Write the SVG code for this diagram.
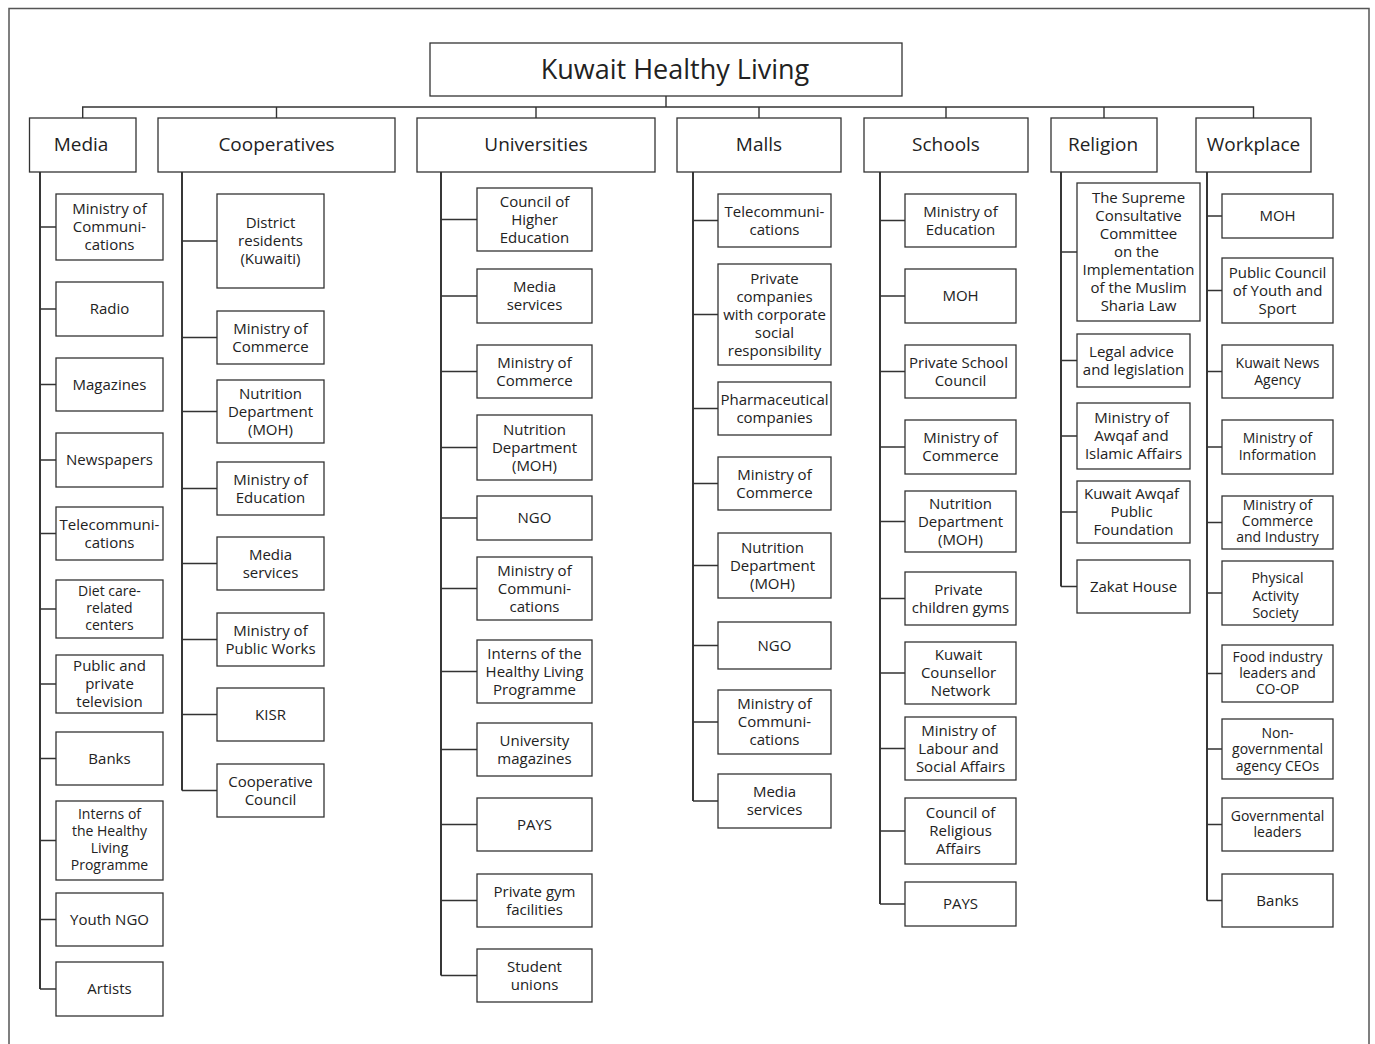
<svg xmlns="http://www.w3.org/2000/svg" width="1375" height="1044" viewBox="0 0 1375 1044">
<style>
.frame{fill:none;stroke:#555;stroke-width:1.5}
.box{fill:#fff;stroke:#333;stroke-width:1.3}
.c{fill:none;stroke:#333;stroke-width:1.4}
.tr{fill:none;stroke:#222;stroke-width:1.8}
text{font-family:"Open Sans","Noto Sans","DejaVu Sans",sans-serif;fill:#222;text-anchor:middle}
.t{font-size:15px}
.s{font-size:14px}
.h{font-size:19px}
.ti{font-size:27px}
</style>
<rect width="1375" height="1044" fill="#fff"/>
<path class="frame" d="M9,1044 V8.5 H1369 V1044"/>

<g id="connectors">
<path class="c" d="M666,96 V107 M82.7,118 V107 H1253.5 V118 M276.5,107 V118 M536,107 V118 M759,107 V118 M946,107 V118 M1104,107 V118"/>
<path class="tr" d="M40,172 V989 M182,172 V790.5 M441,172 V975.5 M693,172 V801 M880,172 V904 M1061,172 V586.5 M1207,172 V900.5"/>
<path class="c" d="M40,227 H56 M40,309 H56 M40,384.5 H56 M40,460 H56 M40,533.5 H56 M40,609 H56 M40,684 H56 M40,758.5 H56 M40,840.5 H56 M40,919.5 H56 M40,989 H56"/>
<path class="c" d="M182,241 H217 M182,337.5 H217 M182,411.5 H217 M182,488.5 H217 M182,563.5 H217 M182,639.5 H217 M182,714.5 H217 M182,790.5 H217"/>
<path class="c" d="M441,219.5 H477 M441,296 H477 M441,371.5 H477 M441,447.5 H477 M441,518 H477 M441,588.5 H477 M441,671.5 H477 M441,749.5 H477 M441,824.5 H477 M441,900.5 H477 M441,975.5 H477"/>
<path class="c" d="M693,220.5 H718 M693,314.5 H718 M693,408.5 H718 M693,483.5 H718 M693,565.5 H718 M693,645.5 H718 M693,722 H718 M693,801 H718"/>
<path class="c" d="M880,220.5 H905 M880,296 H905 M880,371.5 H905 M880,447 H905 M880,521.5 H905 M880,598.5 H905 M880,673 H905 M880,748.5 H905 M880,831 H905 M880,904 H905"/>
<path class="c" d="M1061,252 H1077 M1061,360.5 H1077 M1061,436 H1077 M1061,512 H1077 M1061,586.5 H1077"/>
<path class="c" d="M1207,216 H1222 M1207,290.5 H1222 M1207,371.5 H1222 M1207,447 H1222 M1207,522.5 H1222 M1207,593 H1222 M1207,673.5 H1222 M1207,749 H1222 M1207,824.5 H1222 M1207,900.5 H1222"/>
</g>

<g id="root"><rect class="box" x="430" y="43" width="472" height="53"/><text class="ti" x="675" y="79">Kuwait Healthy Living</text></g>

<g id="cat-media"><rect class="box" x="29.5" y="118" width="106.5" height="54"/><text class="h" x="81" y="151">Media</text></g>
<g id="cat-cooperatives"><rect class="box" x="158" y="118" width="237" height="54"/><text class="h" x="276.5" y="151">Cooperatives</text></g>
<g id="cat-universities"><rect class="box" x="417" y="118" width="238" height="54"/><text class="h" x="536" y="151">Universities</text></g>
<g id="cat-malls"><rect class="box" x="677" y="118" width="164" height="54"/><text class="h" x="759" y="151">Malls</text></g>
<g id="cat-schools"><rect class="box" x="864" y="118" width="164" height="54"/><text class="h" x="946" y="151">Schools</text></g>
<g id="cat-religion"><rect class="box" x="1051" y="118" width="106" height="54"/><text class="h" x="1103" y="151">Religion</text></g>
<g id="cat-workplace"><rect class="box" x="1196" y="118" width="115" height="54"/><text class="h" x="1253.5" y="151">Workplace</text></g>

<!-- Media -->
<g id="m1"><rect class="box" x="56" y="194" width="107" height="66"/><text class="t" y="214"><tspan x="109.5">Ministry of</tspan><tspan x="109.5" dy="18">Communi-</tspan><tspan x="109.5" dy="18">cations</tspan></text></g>
<g id="m2"><rect class="box" x="56" y="282" width="107" height="54"/><text class="t" x="109.5" y="314">Radio</text></g>
<g id="m3"><rect class="box" x="56" y="358" width="107" height="53"/><text class="t" x="109.5" y="389.5">Magazines</text></g>
<g id="m4"><rect class="box" x="56" y="433" width="107" height="54"/><text class="t" x="109.5" y="465">Newspapers</text></g>
<g id="m5"><rect class="box" x="56" y="507" width="107" height="53"/><text class="t" y="529.5"><tspan x="109.5">Telecommuni-</tspan><tspan x="109.5" dy="18">cations</tspan></text></g>
<g id="m6"><rect class="box" x="56" y="580" width="107" height="58"/><text class="s" y="596"><tspan x="109.5">Diet care-</tspan><tspan x="109.5" dy="17">related</tspan><tspan x="109.5" dy="17">centers</tspan></text></g>
<g id="m7"><rect class="box" x="56" y="655" width="107" height="58"/><text class="t" y="671"><tspan x="109.5">Public and</tspan><tspan x="109.5" dy="18">private</tspan><tspan x="109.5" dy="18">television</tspan></text></g>
<g id="m8"><rect class="box" x="56" y="732" width="107" height="53"/><text class="t" x="109.5" y="763.5">Banks</text></g>
<g id="m9"><rect class="box" x="56" y="801" width="107" height="79"/><text class="s" y="818.5"><tspan x="109.5">Interns of</tspan><tspan x="109.5" dy="17.5">the Healthy</tspan><tspan x="109.5" dy="17">Living</tspan><tspan x="109.5" dy="17">Programme</tspan></text></g>
<g id="m10"><rect class="box" x="56" y="893" width="107" height="53"/><text class="t" x="109.5" y="924.5">Youth NGO</text></g>
<g id="m11"><rect class="box" x="56" y="962" width="107" height="54"/><text class="t" x="109.5" y="994">Artists</text></g>

<!-- Cooperatives -->
<g id="c1"><rect class="box" x="217" y="194" width="107" height="94"/><text class="t" y="228"><tspan x="270.5">District</tspan><tspan x="270.5" dy="18">residents</tspan><tspan x="270.5" dy="18">(Kuwaiti)</tspan></text></g>
<g id="c2"><rect class="box" x="217" y="311" width="107" height="53"/><text class="t" y="333.5"><tspan x="270.5">Ministry of</tspan><tspan x="270.5" dy="18">Commerce</tspan></text></g>
<g id="c3"><rect class="box" x="217" y="380" width="107" height="63"/><text class="t" y="398.5"><tspan x="270.5">Nutrition</tspan><tspan x="270.5" dy="18">Department</tspan><tspan x="270.5" dy="18">(MOH)</tspan></text></g>
<g id="c4"><rect class="box" x="217" y="462" width="107" height="53"/><text class="t" y="484.5"><tspan x="270.5">Ministry of</tspan><tspan x="270.5" dy="18">Education</tspan></text></g>
<g id="c5"><rect class="box" x="217" y="537" width="107" height="53"/><text class="t" y="559.5"><tspan x="270.5">Media</tspan><tspan x="270.5" dy="18">services</tspan></text></g>
<g id="c6"><rect class="box" x="217" y="613" width="107" height="53"/><text class="t" y="635.5"><tspan x="270.5">Ministry of</tspan><tspan x="270.5" dy="18">Public Works</tspan></text></g>
<g id="c7"><rect class="box" x="217" y="688" width="107" height="53"/><text class="t" x="270.5" y="719.5">KISR</text></g>
<g id="c8"><rect class="box" x="217" y="764" width="107" height="53"/><text class="t" y="786.5"><tspan x="270.5">Cooperative</tspan><tspan x="270.5" dy="18">Council</tspan></text></g>

<!-- Universities -->
<g id="u1"><rect class="box" x="477" y="188" width="115" height="63"/><text class="t" y="206.5"><tspan x="534.5">Council of</tspan><tspan x="534.5" dy="18">Higher</tspan><tspan x="534.5" dy="18">Education</tspan></text></g>
<g id="u2"><rect class="box" x="477" y="269" width="115" height="54"/><text class="t" y="292"><tspan x="534.5">Media</tspan><tspan x="534.5" dy="18">services</tspan></text></g>
<g id="u3"><rect class="box" x="477" y="345" width="115" height="53"/><text class="t" y="367.5"><tspan x="534.5">Ministry of</tspan><tspan x="534.5" dy="18">Commerce</tspan></text></g>
<g id="u4"><rect class="box" x="477" y="415" width="115" height="65"/><text class="t" y="434.5"><tspan x="534.5">Nutrition</tspan><tspan x="534.5" dy="18">Department</tspan><tspan x="534.5" dy="18">(MOH)</tspan></text></g>
<g id="u5"><rect class="box" x="477" y="496" width="115" height="44"/><text class="t" x="534.5" y="523">NGO</text></g>
<g id="u6"><rect class="box" x="477" y="557" width="115" height="63"/><text class="t" y="575.5"><tspan x="534.5">Ministry of</tspan><tspan x="534.5" dy="18">Communi-</tspan><tspan x="534.5" dy="18">cations</tspan></text></g>
<g id="u7"><rect class="box" x="477" y="640" width="115" height="63"/><text class="t" y="658.5"><tspan x="534.5">Interns of the</tspan><tspan x="534.5" dy="18">Healthy Living</tspan><tspan x="534.5" dy="18">Programme</tspan></text></g>
<g id="u8"><rect class="box" x="477" y="723" width="115" height="53"/><text class="t" y="745.5"><tspan x="534.5">University</tspan><tspan x="534.5" dy="18">magazines</tspan></text></g>
<g id="u9"><rect class="box" x="477" y="798" width="115" height="53"/><text class="t" x="534.5" y="829.5">PAYS</text></g>
<g id="u10"><rect class="box" x="477" y="874" width="115" height="53"/><text class="t" y="896.5"><tspan x="534.5">Private gym</tspan><tspan x="534.5" dy="18">facilities</tspan></text></g>
<g id="u11"><rect class="box" x="477" y="949" width="115" height="53"/><text class="t" y="971.5"><tspan x="534.5">Student</tspan><tspan x="534.5" dy="18">unions</tspan></text></g>

<!-- Malls -->
<g id="l1"><rect class="box" x="718" y="194" width="113" height="53"/><text class="t" y="216.5"><tspan x="774.5">Telecommuni-</tspan><tspan x="774.5" dy="18">cations</tspan></text></g>
<g id="l2"><rect class="box" x="718" y="264" width="113" height="101"/><text class="t" y="283.5"><tspan x="774.5">Private</tspan><tspan x="774.5" dy="18">companies</tspan><tspan x="774.5" dy="18">with corporate</tspan><tspan x="774.5" dy="18">social</tspan><tspan x="774.5" dy="18">responsibility</tspan></text></g>
<g id="l3"><rect class="box" x="718" y="382" width="113" height="53"/><text class="t" y="404.5"><tspan x="774.5">Pharmaceutical</tspan><tspan x="774.5" dy="18">companies</tspan></text></g>
<g id="l4"><rect class="box" x="718" y="457" width="113" height="53"/><text class="t" y="479.5"><tspan x="774.5">Ministry of</tspan><tspan x="774.5" dy="18">Commerce</tspan></text></g>
<g id="l5"><rect class="box" x="718" y="533" width="113" height="65"/><text class="t" y="552.5"><tspan x="772.5">Nutrition</tspan><tspan x="772.5" dy="18">Department</tspan><tspan x="772.5" dy="18">(MOH)</tspan></text></g>
<g id="l6"><rect class="box" x="718" y="622" width="113" height="47"/><text class="t" x="774.5" y="650.5">NGO</text></g>
<g id="l7"><rect class="box" x="718" y="690" width="113" height="64"/><text class="t" y="709"><tspan x="774.5">Ministry of</tspan><tspan x="774.5" dy="18">Communi-</tspan><tspan x="774.5" dy="18">cations</tspan></text></g>
<g id="l8"><rect class="box" x="718" y="774" width="113" height="54"/><text class="t" y="797"><tspan x="774.5">Media</tspan><tspan x="774.5" dy="18">services</tspan></text></g>

<!-- Schools -->
<g id="s1"><rect class="box" x="905" y="194" width="111" height="53"/><text class="t" y="216.5"><tspan x="960.5">Ministry of</tspan><tspan x="960.5" dy="18">Education</tspan></text></g>
<g id="s2"><rect class="box" x="905" y="269" width="111" height="54"/><text class="t" x="960.5" y="301">MOH</text></g>
<g id="s3"><rect class="box" x="905" y="345" width="111" height="53"/><text class="t" y="367.5"><tspan x="958.5">Private School</tspan><tspan x="960.5" dy="18">Council</tspan></text></g>
<g id="s4"><rect class="box" x="905" y="420" width="111" height="54"/><text class="t" y="443"><tspan x="960.5">Ministry of</tspan><tspan x="960.5" dy="18">Commerce</tspan></text></g>
<g id="s5"><rect class="box" x="905" y="491" width="111" height="61"/><text class="t" y="508.5"><tspan x="960.5">Nutrition</tspan><tspan x="960.5" dy="18">Department</tspan><tspan x="960.5" dy="18">(MOH)</tspan></text></g>
<g id="s6"><rect class="box" x="905" y="572" width="111" height="53"/><text class="t" y="594.5"><tspan x="958.5">Private</tspan><tspan x="960.5" dy="18">children gyms</tspan></text></g>
<g id="s7"><rect class="box" x="905" y="642" width="111" height="62"/><text class="t" y="660"><tspan x="958.5">Kuwait</tspan><tspan x="958.5" dy="18">Counsellor</tspan><tspan x="960.5" dy="18">Network</tspan></text></g>
<g id="s8"><rect class="box" x="905" y="717" width="111" height="63"/><text class="t" y="735.5"><tspan x="958.5">Ministry of</tspan><tspan x="958.5" dy="18">Labour and</tspan><tspan x="960.5" dy="18">Social Affairs</tspan></text></g>
<g id="s9"><rect class="box" x="905" y="798" width="111" height="66"/><text class="t" y="818"><tspan x="960.5">Council of</tspan><tspan x="960.5" dy="18">Religious</tspan><tspan x="958.5" dy="18">Affairs</tspan></text></g>
<g id="s10"><rect class="box" x="905" y="882" width="111" height="44"/><text class="t" x="960.5" y="909">PAYS</text></g>

<!-- Religion -->
<g id="r1"><rect class="box" x="1077" y="183" width="123" height="138"/><text class="t" y="203"><tspan x="1138.5">The Supreme</tspan><tspan x="1138.5" dy="18">Consultative</tspan><tspan x="1138.5" dy="18">Committee</tspan><tspan x="1136.5" dy="18">on the</tspan><tspan x="1138.5" dy="18">Implementation</tspan><tspan x="1138.5" dy="18">of the Muslim</tspan><tspan x="1138.5" dy="18">Sharia Law</tspan></text></g>
<g id="r2"><rect class="box" x="1077" y="334" width="113" height="53"/><text class="t" y="356.5"><tspan x="1131.5">Legal advice</tspan><tspan x="1133.5" dy="18">and legislation</tspan></text></g>
<g id="r3"><rect class="box" x="1077" y="403" width="113" height="66"/><text class="t" y="423"><tspan x="1131.5">Ministry of</tspan><tspan x="1131.5" dy="18">Awqaf and</tspan><tspan x="1133.5" dy="18">Islamic Affairs</tspan></text></g>
<g id="r4"><rect class="box" x="1077" y="481" width="113" height="62"/><text class="t" y="499"><tspan x="1131.5">Kuwait Awqaf</tspan><tspan x="1131.5" dy="18">Public</tspan><tspan x="1133.5" dy="18">Foundation</tspan></text></g>
<g id="r5"><rect class="box" x="1077" y="560" width="113" height="53"/><text class="t" x="1133.5" y="591.5">Zakat House</text></g>

<!-- Workplace -->
<g id="w1"><rect class="box" x="1222" y="194" width="111" height="44"/><text class="t" x="1277.5" y="221">MOH</text></g>
<g id="w2"><rect class="box" x="1222" y="258" width="111" height="65"/><text class="t" y="277.5"><tspan x="1277.5">Public Council</tspan><tspan x="1277.5" dy="18">of Youth and</tspan><tspan x="1277.5" dy="18">Sport</tspan></text></g>
<g id="w3"><rect class="box" x="1222" y="345" width="111" height="53"/><text class="s" y="367.5"><tspan x="1277.5">Kuwait News</tspan><tspan x="1277.5" dy="17">Agency</tspan></text></g>
<g id="w4"><rect class="box" x="1222" y="420" width="111" height="54"/><text class="s" y="443"><tspan x="1277.5">Ministry of</tspan><tspan x="1277.5" dy="17">Information</tspan></text></g>
<g id="w5"><rect class="box" x="1222" y="496" width="111" height="53"/><text class="s" y="510"><tspan x="1277.5">Ministry of</tspan><tspan x="1277.5" dy="16">Commerce</tspan><tspan x="1277.5" dy="16">and Industry</tspan></text></g>
<g id="w6"><rect class="box" x="1222" y="561" width="111" height="64"/><text class="s" y="583"><tspan x="1277.5">Physical</tspan><tspan x="1275.5" dy="17.5">Activity</tspan><tspan x="1275.5" dy="17.5">Society</tspan></text></g>
<g id="w7"><rect class="box" x="1222" y="645" width="111" height="57"/><text class="s" y="661.7"><tspan x="1277.5">Food industry</tspan><tspan x="1277.5" dy="16">leaders and</tspan><tspan x="1277.5" dy="16">CO-OP</tspan></text></g>
<g id="w8"><rect class="box" x="1222" y="719" width="111" height="60"/><text class="s" y="737.5"><tspan x="1277.5">Non-</tspan><tspan x="1277.5" dy="16.5">governmental</tspan><tspan x="1277.5" dy="16.5">agency CEOs</tspan></text></g>
<g id="w9"><rect class="box" x="1222" y="798" width="111" height="53"/><text class="s" y="821"><tspan x="1277.5">Governmental</tspan><tspan x="1277.5" dy="16">leaders</tspan></text></g>
<g id="w10"><rect class="box" x="1222" y="874" width="111" height="53"/><text class="t" x="1277.5" y="905.5">Banks</text></g>
</svg>
